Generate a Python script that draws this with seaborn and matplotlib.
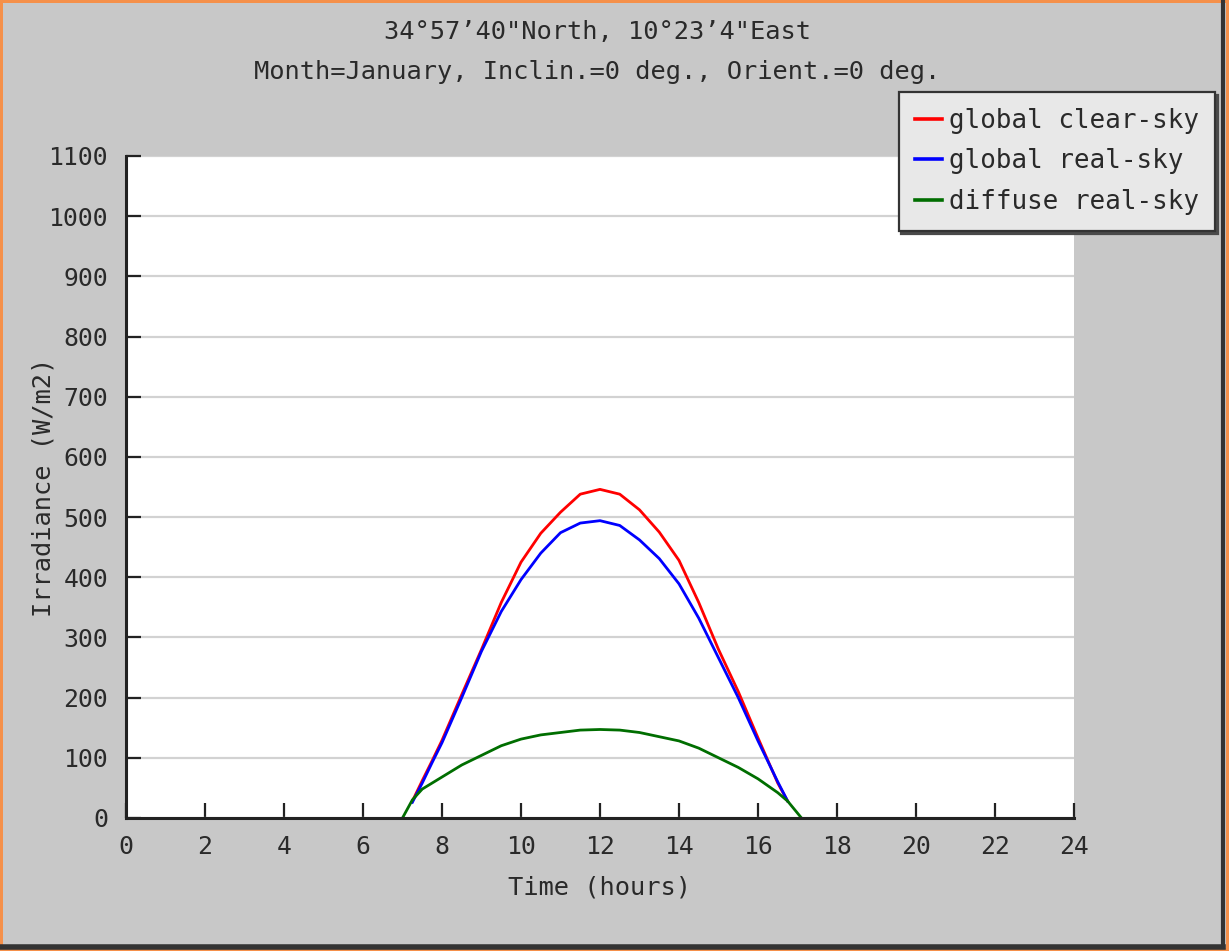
import matplotlib
matplotlib.use("Agg")
import matplotlib.pyplot as plt
from matplotlib.lines import Line2D
import seaborn as sns
import pandas as pd

# values (hours, W/m2)
hours_global = [7.25, 7.5, 7.75, 8.0, 8.5, 9.0, 9.5, 10.0, 10.5, 11.0, 11.5, 12.0,
                12.5, 13.0, 13.5, 14.0, 14.5, 15.0, 15.5, 16.0, 16.5, 16.75]
clear_sky = [28, 62, 95, 129, 205, 280, 358, 425, 473, 508, 538, 546,
             538, 512, 475, 428, 358, 280, 210, 133, 58, 28]
real_sky = [26, 58, 92, 125, 200, 277, 343, 396, 440, 474, 490, 494,
            486, 462, 431, 389, 332, 266, 200, 128, 60, 28]

hours_diffuse = [7.0, 7.25, 7.5, 8.0, 8.5, 9.0, 9.5, 10.0, 10.5, 11.0, 11.5, 12.0,
                 12.5, 13.0, 13.5, 14.0, 14.5, 15.0, 15.5, 16.0, 16.5, 16.75, 17.1]
diffuse = [0, 30, 48, 68, 88, 104, 120, 131, 138, 142, 146, 147,
           146, 142, 135, 128, 116, 100, 84, 65, 42, 28, 0]

labels = ["global clear-sky", "global real-sky", "diffuse real-sky"]
colors = ["#ff0000", "#0000ff", "#006e00"]
x_ticks = list(range(0, 25, 2))
y_ticks = list(range(0, 1101, 100))

df = pd.concat([
    pd.DataFrame({"hour": hours_global, "irr": clear_sky, "series": labels[0]}),
    pd.DataFrame({"hour": hours_global, "irr": real_sky, "series": labels[1]}),
    pd.DataFrame({"hour": hours_diffuse, "irr": diffuse, "series": labels[2]}),
], ignore_index=True)

plt.rcParams["font.family"] = ["DejaVu Sans Mono", "DejaVu Sans"]
txt = "#2a2a2a"
bg = "#c8c8c8"
fs = 18.3

fig = plt.figure(figsize=(12.29, 9.51), dpi=100, facecolor=bg)
ax = fig.add_axes([0.1025, 0.1399, 0.7714, 0.6961])
ax.set_facecolor("white")

sns.lineplot(data=df, x="hour", y="irr", hue="series", hue_order=labels,
             palette=dict(zip(labels, colors)), linewidth=2.0, ax=ax,
             estimator=None, legend=False)

ax.set_xlim(0, 24)
ax.set_ylim(0, 1100)
ax.set_xticks(x_ticks)
ax.set_yticks(y_ticks)
ax.grid(axis="y", color="#d2d2d2", linewidth=1.6)
ax.grid(axis="x", visible=False)
ax.set_axisbelow(True)
for s in ["top", "right"]:
    ax.spines[s].set_visible(False)
for s in ["left", "bottom"]:
    ax.spines[s].set_color("#222222")
    ax.spines[s].set_linewidth(2.2)
ax.tick_params(axis="both", direction="in", length=11, width=1.6, color="#222222",
               labelsize=17.8, labelcolor=txt)
ax.tick_params(axis="y", pad=13)
ax.tick_params(axis="x", pad=12)

ax.set_xlabel("Time (hours)", fontsize=fs, color=txt, labelpad=12)
ax.set_ylabel("Irradiance (W/m2)", fontsize=fs, color=txt)
ax.yaxis.set_label_coords(-0.074, 0.5)

fig.text(0.486, 0.966, "34\u00b057\u201940\"North, 10\u00b023\u20194\"East",
         ha="center", va="center", fontsize=fs, color=txt)
fig.text(0.486, 0.924, "Month=January, Inclin.=0 deg., Orient.=0 deg.",
         ha="center", va="center", fontsize=fs, color=txt)

handles = [Line2D([0], [0], color=c, linewidth=2.6) for c in colors]
leg = ax.legend(handles, labels, loc="upper right", bbox_to_anchor=(0.9886, 0.9033),
                bbox_transform=fig.transFigure, borderaxespad=0, fontsize=18.6,
                frameon=True, fancybox=False, shadow={"color": "#4a4a4a", "alpha": 1},
                framealpha=1, facecolor="#e8e8e8", edgecolor="#333333",
                handlelength=1.05, handletextpad=0.28, labelspacing=0.56,
                borderpad=0.62)
leg.get_frame().set_linewidth(1.6)
for t in leg.get_texts():
    t.set_color(txt)

# border of the picture: orange frame with a dark shadow at right and bottom
fig.add_artist(Line2D([0.0, 0.995], [0.004, 0.004], color="#333333", linewidth=4,
                      transform=fig.transFigure))
fig.add_artist(Line2D([0.995, 0.995], [0.004, 1.0], color="#333333", linewidth=3,
                      transform=fig.transFigure))
fig.patch.set_edgecolor("#f5904a")
fig.patch.set_linewidth(3)

fig.savefig("out.png", dpi=100, facecolor=fig.get_facecolor(),
            edgecolor=fig.patch.get_edgecolor())
